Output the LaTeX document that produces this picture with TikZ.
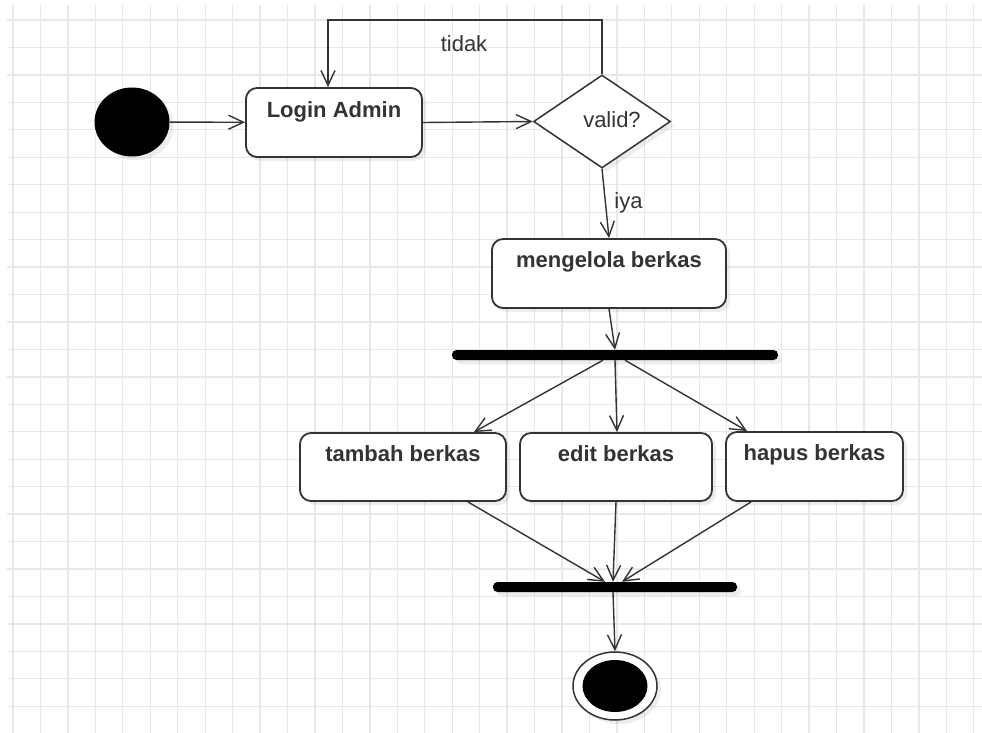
\documentclass[tikz,border=0pt]{standalone}
\usepackage{fontspec}
\setmainfont{Liberation Sans}
\usetikzlibrary{arrows.meta,shapes.geometric,shadows}
\definecolor{ln}{HTML}{333333}
\definecolor{gridc}{HTML}{E8E8E8}
\tikzset{
  shad/.style={drop shadow={shadow xshift=4pt, shadow yshift=-4pt, fill=black, opacity=0.07}},
  act/.style={draw=ln, line width=1.8pt, rounded corners=11pt, fill=white, inner sep=0pt, shad},
  acttext/.style={font=\fontsize{22}{26}\selectfont\bfseries, text=ln, anchor=base, inner sep=0pt},
  plain/.style={font=\fontsize{22}{26}\selectfont, text=ln, anchor=base, inner sep=0pt},
  conn/.style={draw=ln, line width=1.4pt, -{Straight Barb[length=15pt,width=14pt,line width=1.4pt]}},
  syncbar/.style={fill=black, rounded corners=4.5pt, minimum height=10pt, inner sep=0pt, shad},
}
\begin{document}
\begin{tikzpicture}[x=1pt, y=-1pt]
\useasboundingbox (0,0) rectangle (982,733);
\fill[white] (0,0) rectangle (982,733);
% grid
\begin{scope}
  \clip (7,5) rectangle (982,733);
  \foreach \i in {0,...,35} \draw[gridc, line width=1.3pt] ({13+27.45*\i},5) -- ({13+27.45*\i},733);
  \foreach \j in {0,...,26} \draw[gridc, line width=1.3pt] (7,{20+27.45*\j}) -- (982,{20+27.45*\j});
\end{scope}

% start
\node[ellipse, fill=black, minimum width=75pt, minimum height=69pt, inner sep=0pt, shad] (start) at (132,122) {};

% activities
\node[act, minimum width=176pt, minimum height=69pt] (login) at (334,122.5) {};
\node[acttext] (loginT) at ([yshift=-30pt]login.north) {Login Admin};

\node[diamond, draw=ln, line width=1.5pt, fill=white, minimum width=137pt, minimum height=93pt, inner sep=0pt, shad] (valid) at (602,121.5) {};
\node[plain] (validT) at (612,128) {valid?};

\node[act, minimum width=234pt, minimum height=69pt] (kelola) at (609,273.5) {};
\node[acttext] (kelolaT) at ([yshift=-29pt]kelola.north) {mengelola berkas};

\node[syncbar, minimum width=326pt] (fork) at (615,355) {};

\node[act, minimum width=206pt, minimum height=68pt] (tambah) at (403,467) {};
\node[acttext] (tambahT) at ([yshift=-29pt]tambah.north) {tambah berkas};

\node[act, minimum width=192pt, minimum height=68pt] (edit) at (616,467) {};
\node[acttext] (editT) at ([yshift=-29pt]edit.north) {edit berkas};

\node[act, minimum width=177pt, minimum height=69pt] (hapus) at (814.5,466.5) {};
\node[acttext] (hapusT) at ([yshift=-29pt]hapus.north) {hapus berkas};

\node[syncbar, minimum width=244pt] (join) at (615,587) {};

% final
\node[ellipse, draw=ln, line width=1.5pt, fill=white, minimum width=84pt, minimum height=68pt, inner sep=0pt, shad] (final) at (615,686) {};
\node[ellipse, fill=black, minimum width=65pt, minimum height=52pt, inner sep=0pt] (finalIn) at (615,686) {};

% connectors
\draw[conn] (start) -- (login);
\draw[conn] (login.east) -- (valid.west);
\coordinate (loopA) at (602,20);
\coordinate (loopB) at (328,20);
\draw[conn] (valid.north) -- (loopA) -- (loopB) -- (loopB |- login.north);
\node[plain] (tidak) at (464,52) {tidak};
\draw[conn] (valid.south) -- (kelola.north);
\node[plain] (iya) at (628.5,208) {iya};
\draw[conn] (kelola.south) -- (fork.north);
\draw[conn] ([xshift=-12pt]fork.south) -- ([xshift=-33pt]tambah.north east);
\draw[conn] (fork.south) -- ([xshift=1pt]edit.north);
\draw[conn] ([xshift=10pt]fork.south) -- ([xshift=22pt]hapus.north west);
\draw[conn] ([xshift=-39pt]tambah.south east) -- ([xshift=-10pt]join.north);
\draw[conn] (edit.south) -- ([xshift=-2pt]join.north);
\draw[conn] ([xshift=26pt]hapus.south west) -- ([xshift=7pt]join.north);
\draw[conn] ([xshift=-2pt]join.south) -- (final.north);
\end{tikzpicture}
\end{document}
